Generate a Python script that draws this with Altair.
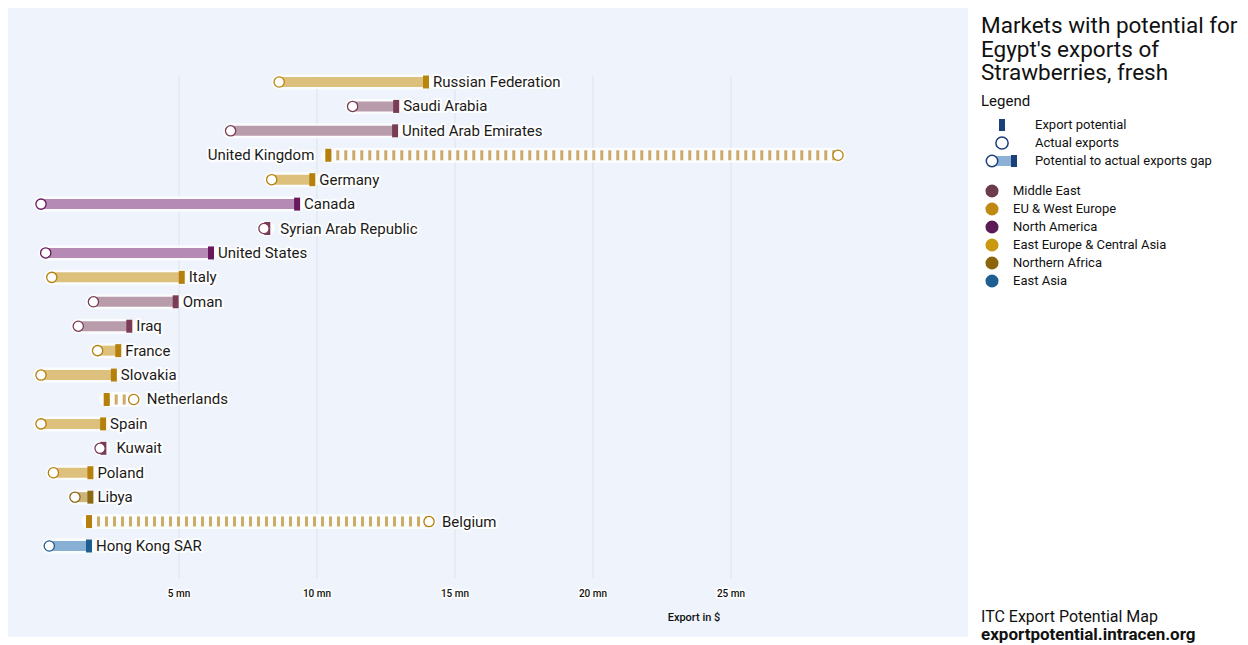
import altair as alt
import pandas as pd

# ---------------- data ----------------
countries = ["Russian Federation", "Saudi Arabia", "United Arab Emirates", "United Kingdom",
             "Germany", "Canada", "Syrian Arab Republic", "United States", "Italy", "Oman",
             "Iraq", "France", "Slovakia", "Netherlands", "Spain", "Kuwait", "Poland",
             "Libya", "Belgium", "Hong Kong SAR"]
regions_of = ["East Europe & Central Asia", "Middle East", "Middle East", "EU & West Europe",
              "EU & West Europe", "North America", "Middle East", "North America",
              "EU & West Europe", "Middle East", "Middle East", "EU & West Europe",
              "EU & West Europe", "EU & West Europe", "EU & West Europe", "Middle East",
              "EU & West Europe", "Northern Africa", "EU & West Europe", "East Asia"]
# values in millions of US$
actual_exports = [8.63, 11.29, 6.87, 28.88, 8.36, 0.0, 8.08, 0.17, 0.39, 1.90,
                  1.35, 2.05, 0.0, 3.36, 0.0, 2.14, 0.45, 1.23, 14.06, 0.30]
export_potential = [13.95, 12.87, 12.83, 10.41, 9.83, 9.28, 8.20, 6.16, 5.10, 4.88,
                    3.20, 2.80, 2.64, 2.38, 2.25, 2.26, 1.79, 1.79, 1.74, 1.74]

region_names = ["Middle East", "EU & West Europe", "North America",
                "East Europe & Central Asia", "Northern Africa", "East Asia"]
tick_values = [5, 10, 15, 20, 25]
tick_labels = ["5 mn", "10 mn", "15 mn", "20 mn", "25 mn"]
axis_title = "Export in $"

title_lines = ["Markets with potential for", "Egypt's exports of", "Strawberries, fresh"]
legend_heading = "Legend"
legend_items = ["Export potential", "Actual exports", "Potential to actual exports gap"]
footer_1 = "ITC Export Potential Map"
footer_2 = "exportpotential.intracen.org"

# ---------------- styles ----------------
FONT = "Roboto"
BG = "#eff4fc"
region_dot = ["#6c3b4c", "#c08a12", "#5c1a56", "#c99a10", "#8a650b", "#1f5e90"]
bar_light = {"Middle East": "#b99cab", "EU & West Europe": "#dcc07c",
             "North America": "#b58bb6", "East Europe & Central Asia": "#dcc07c",
             "Northern Africa": "#cdb57a", "East Asia": "#88afd4"}
dash_light = {"Middle East": "#a98596", "EU & West Europe": "#cdaa66",
              "North America": "#a57aa6", "East Europe & Central Asia": "#cdaa66",
              "Northern Africa": "#bda46a", "East Asia": "#78a0c6"}
bar_dark = {"Middle East": "#7a3c55", "EU & West Europe": "#b5800c",
            "North America": "#68195d", "East Europe & Central Asia": "#b8860b",
            "Northern Africa": "#8a6a12", "East Asia": "#1d5f8f"}

df = pd.DataFrame({"country": countries, "region": regions_of,
                   "actual": actual_exports, "potential": export_potential})
df["lo"] = df[["actual", "potential"]].min(axis=1)
df["hi"] = df[["actual", "potential"]].max(axis=1)
df["gap"] = ["dashed" if a > p else "solid" for a, p in zip(df.actual, df.potential)]
df["light"] = df.region.map(bar_light)
df["dashc"] = df.region.map(dash_light)
df["dark"] = df.region.map(bar_dark)


def label_side(row):
    if row.hi > 26:
        return "left"
    if row.actual >= row.potential - 0.15:
        return "circle"
    return "marker"


df["side"] = df.apply(label_side, axis=1)

ticks_df = pd.DataFrame({"value": tick_values, "label": tick_labels})

W, H = 960, 629
X = alt.Scale(domain=[-1.196, 33.59], nice=False, zero=False)
Y = alt.Scale(type="point", domain=countries, range=[74, 538], padding=0)

base = alt.Chart(df).encode(y=alt.Y("country:N", scale=Y, axis=None))

grid = alt.Chart(ticks_df).mark_rule(color="#dde3ea", strokeWidth=1).encode(
    x=alt.X("value:Q", scale=X, axis=None), y=alt.value(68), y2=alt.value(570))

halo = base.mark_rule(color="white", strokeWidth=15, opacity=0.75, strokeCap="round").encode(
    x=alt.X("lo:Q", scale=X, axis=None), x2="hi:Q")

solid = base.transform_filter(alt.datum.gap == "solid").mark_rule(
    strokeWidth=10, strokeCap="butt").encode(
    x=alt.X("lo:Q", scale=X, axis=None), x2="hi:Q",
    color=alt.Color("light:N", scale=None))

dashed = base.transform_filter(alt.datum.gap == "dashed").mark_rule(
    strokeWidth=10, strokeCap="butt", strokeDash=[3, 5]).encode(
    x=alt.X("lo:Q", scale=X, axis=None), x2="hi:Q",
    color=alt.Color("dashc:N", scale=None))

marker = base.mark_tick(thickness=6, size=13, opacity=1).encode(
    x=alt.X("potential:Q", scale=X, axis=None),
    color=alt.Color("dark:N", scale=None))

circle = base.mark_point(shape="circle", fill="white", fillOpacity=1, size=105,
                         strokeWidth=1.3, opacity=1).encode(
    x=alt.X("actual:Q", scale=X, axis=None),
    stroke=alt.Stroke("dark:N", scale=None))


def labels(side, dx, align):
    sub = base.transform_filter(alt.datum.side == side)
    enc = dict(x=alt.X("hi:Q" if side != "left" else "lo:Q", scale=X, axis=None),
               text="country:N")
    h = sub.mark_text(font=FONT, fontSize=15, align=align, baseline="middle", dx=dx,
                      stroke="white", strokeWidth=4, strokeOpacity=0.9,
                      strokeJoin="round", color="white").encode(**enc)
    t = sub.mark_text(font=FONT, fontSize=15, align=align, baseline="middle", dx=dx,
                      color="#1a1a1a").encode(**enc)
    return [h, t]


lab_layers = labels("marker", 7, "left") + labels("circle", 13, "left") + labels("left", -14, "right")

tick_text_halo = alt.Chart(ticks_df).mark_text(
    font=FONT, fontSize=10, color="white", stroke="white", strokeWidth=3,
    baseline="middle").encode(x=alt.X("value:Q", scale=X, axis=None),
                               y=alt.value(586), text="label:N")
tick_text = alt.Chart(ticks_df).mark_text(
    font=FONT, fontSize=10, fontWeight=500, color="#111111", baseline="middle").encode(
    x=alt.X("value:Q", scale=X, axis=None), y=alt.value(586), text="label:N")
title_text = alt.Chart(pd.DataFrame({"t": [axis_title]})).mark_text(
    font=FONT, fontSize=11, fontWeight=500, color="#111111", baseline="middle").encode(
    x=alt.value(686), y=alt.value(610), text="t:N")

main = alt.layer(grid, halo, solid, dashed, marker, circle, *lab_layers,
                 tick_text_halo, tick_text, title_text).properties(
    width=W, height=H, view=alt.ViewBackground(fill=BG, strokeWidth=0))

# ---------------- side panel ----------------
SW = 272
one = pd.DataFrame({"k": [0]})
NAVY = "#1b3f78"

side_title = alt.Chart(one).mark_text(
    font=FONT, fontSize=22.5, align="left", baseline="alphabetic", lineHeight=23.5,
    color="#111111").encode(x=alt.value(13), y=alt.value(25), text=alt.value(title_lines))
side_head = alt.Chart(one).mark_text(
    font=FONT, fontSize=15, align="left", baseline="alphabetic", color="#111111").encode(
    x=alt.value(13), y=alt.value(98), text=alt.value(legend_heading))

items_df = pd.DataFrame({"item": legend_items})
IY = alt.Scale(type="point", domain=legend_items, range=[117, 153], padding=0)
items_text = alt.Chart(items_df).mark_text(
    font=FONT, fontSize=13, align="left", baseline="middle", color="#111111").encode(
    x=alt.value(67), y=alt.Y("item:N", scale=IY, axis=None), text="item:N")

sym_pot = alt.Chart(one).mark_rect(color=NAVY).encode(
    x=alt.value(31), x2=alt.value(37), y=alt.value(111), y2=alt.value(123))
sym_act = alt.Chart(one).mark_point(shape="circle", fill="white", fillOpacity=1, size=150,
                                    stroke=NAVY, strokeWidth=1.5, opacity=1).encode(
    x=alt.value(34), y=alt.value(135))
sym_gap_bar = alt.Chart(one).mark_rule(color="#8db1d6", strokeWidth=10).encode(
    x=alt.value(25), x2=alt.value(44), y=alt.value(153))
sym_gap_mark = alt.Chart(one).mark_rect(color=NAVY).encode(
    x=alt.value(43), x2=alt.value(49), y=alt.value(147), y2=alt.value(159))
sym_gap_circ = alt.Chart(one).mark_point(shape="circle", fill="white", fillOpacity=1,
                                         size=130, stroke=NAVY, strokeWidth=1.5,
                                         opacity=1).encode(x=alt.value(24), y=alt.value(153))

reg_df = pd.DataFrame({"region": region_names})
RY = alt.Scale(type="point", domain=region_names, range=[183, 273], padding=0)
reg_dots = alt.Chart(reg_df).mark_circle(size=170, opacity=1).encode(
    x=alt.value(24), y=alt.Y("region:N", scale=RY, axis=None),
    color=alt.Color("region:N", scale=alt.Scale(domain=region_names, range=region_dot),
                    legend=None))
reg_text = alt.Chart(reg_df).mark_text(
    font=FONT, fontSize=13, align="left", baseline="middle", color="#111111").encode(
    x=alt.value(45), y=alt.Y("region:N", scale=RY, axis=None), text="region:N")
region_block = alt.layer(reg_dots, reg_text)

foot1 = alt.Chart(one).mark_text(font=FONT, fontSize=16, align="left", baseline="middle",
                                 color="#111111").encode(
    x=alt.value(13), y=alt.value(609), text=alt.value(footer_1))
foot2 = alt.Chart(one).mark_text(font=FONT, fontSize=17, fontWeight="bold", align="left",
                                 baseline="middle", color="#111111").encode(
    x=alt.value(13), y=alt.value(627), text=alt.value(footer_2))

side = alt.layer(side_title, side_head, sym_gap_bar, sym_gap_mark, sym_gap_circ,
                 sym_pot, sym_act, items_text, region_block, foot1, foot2).resolve_scale(
    y="independent").properties(
    width=SW, height=H, view=alt.ViewBackground(fill="white", strokeWidth=0))

chart = alt.hconcat(main, side, spacing=0).properties(
    padding=0, background="white").configure_view(strokeWidth=0)

chart.save("out.html", embed_options={"renderer": "svg", "actions": False})
